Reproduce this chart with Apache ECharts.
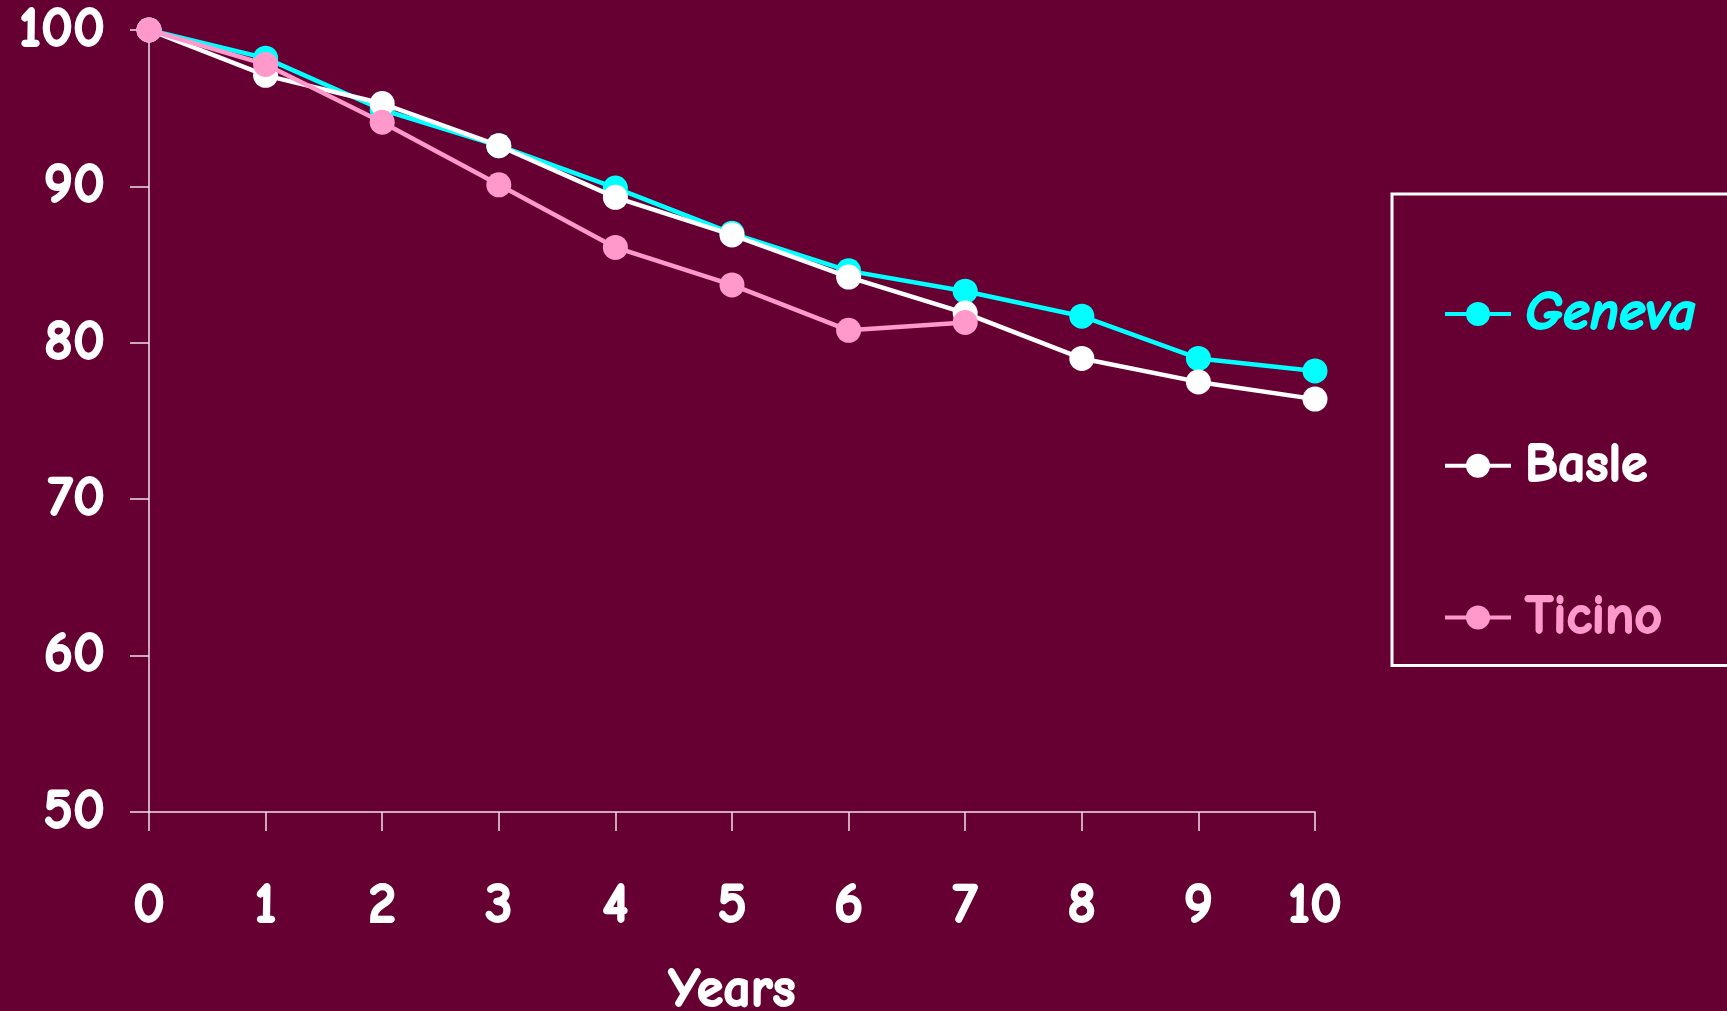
<!DOCTYPE html>
<html>
<head>
<meta charset="utf-8">
<script src="https://cdn.jsdelivr.net/npm/echarts@6/dist/echarts.min.js"></script>
<style>
html,body{margin:0;padding:0;background:#660033;}
#c{width:1727px;height:1011px;}
</style>
</head>
<body>
<div id="c"></div>
<script>
const years = [0,1,2,3,4,5,6,7,8,9,10];
const geneva = [100, 98.2, 94.9, 92.6, 89.9, 87.0, 84.6, 83.3, 81.7, 79.0, 78.2];
const basle  = [100, 97.1, 95.3, 92.6, 89.3, 86.9, 84.2, 81.9, 79.0, 77.5, 76.4];
const ticino = [100, 97.8, 94.1, 90.1, 86.1, 83.7, 80.8, 81.3];
const seriesNames = ['Geneva','Basle','Ticino'];
const colors = ['#00ffff','#ffffff','#ff99cc'];

const FONT = '"Comic Sans MS","Comic Neue",Lato,"Open Sans",sans-serif';
function pairs(vals){ return vals.map((v,i)=>[years[i], v]); }
const allData = [geneva, basle, ticino];
const boldText = (color, size) => ({color:color, fontSize:size, fontWeight:'bold', fontFamily:FONT, textBorderColor:color, textBorderWidth:1.8});

const chart = echarts.init(document.getElementById('c'));
chart.setOption({
  backgroundColor: '#660033',
  animation: false,
  grid: {left:149, right:412, top:30, bottom:199, containLabel:false, outerBoundsMode:'none'},
  xAxis: {
    type:'value', min:0, max:10, interval:1,
    name:'Years', nameLocation:'middle', nameGap:152,
    nameTextStyle:boldText('#fff', 54),
    axisLine:{show:true, lineStyle:{color:'#f0e0e8', width:1.5}},
    axisTick:{show:true, length:19, inside:false, lineStyle:{color:'#f0e0e8', width:1.5}},
    axisLabel:Object.assign(boldText('#fff', 56), {margin:66}),
    splitLine:{show:false}
  },
  yAxis: {
    type:'value', min:50, max:100, interval:10,
    axisLine:{show:true, lineStyle:{color:'#f0e0e8', width:1.5}},
    axisTick:{show:true, length:19, lineStyle:{color:'#f0e0e8', width:1.5}},
    axisLabel:Object.assign(boldText('#fff', 56), {margin:44}),
    splitLine:{show:false}
  },
  legend: {
    orient:'vertical', left:1392, top:194,
    padding:[92, 200, 20, 51],
    borderColor:'#ffffff', borderWidth:3,
    itemWidth:66, itemHeight:30, itemGap:96,
    lineStyle:{width:4},
    textStyle:{fontSize:54, fontWeight:'bold', fontFamily:FONT, lineHeight:54, padding:[0,0,0,9]},
    data: seriesNames.map((n,i)=>({name:n, textStyle:Object.assign(boldText(colors[i],54), {lineHeight:54, fontStyle: i===0?'italic':'normal'})}))
  },
  series: seriesNames.map((n,i)=>({
    name:n, type:'line', data:pairs(allData[i]),
    symbol:'circle', symbolSize:25,
    lineStyle:{color:colors[i], width:4.5},
    itemStyle:{color:colors[i]},
    z: 2+i
  }))
});
</script>
</body>
</html>
